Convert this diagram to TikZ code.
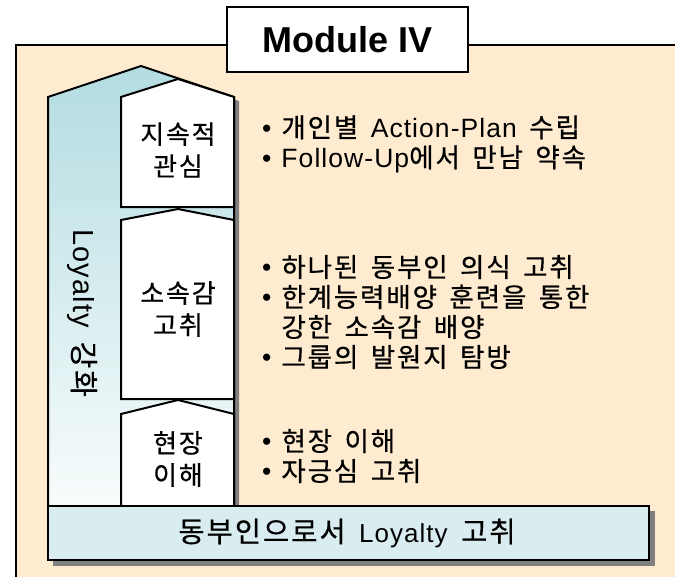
\documentclass[tikz,border=0pt]{standalone}
\usepackage{fontspec}
\setmainfont{Noto Sans CJK KR}[FakeBold=0.5, LetterSpace=7, WordSpace=1.6]
\newfontfamily\lat{Liberation Sans}[LetterSpace=4]
\newfontfamily\titlefont{Liberation Sans}
\newcommand{\bul}{{\lat •}\hspace{10pt}}
\definecolor{paper}{HTML}{FEEBD0}
\definecolor{colteal}{HTML}{B3DCE1}
\definecolor{colpale}{HTML}{F8FCFC}
\definecolor{baseteal}{HTML}{D9EDF0}
\definecolor{shadowgray}{HTML}{808080}
\tikzset{
  boxline/.style={line width=2pt, line join=miter},
  shadowfill/.style={fill=shadowgray},
  stagetext/.style={font=\fontsize{26}{32}\selectfont, align=center, inner sep=0pt},
  bullettext/.style={font=\fontsize{26.5}{30}\selectfont, align=left, inner sep=0pt, anchor=west},
}
\begin{document}
\begin{tikzpicture}[x=1pt, y=-1pt]
    \useasboundingbox (0,0) rectangle (675,576);
    % frame
    \fill[paper] (16,45) rectangle (676,577);
    \draw[boxline] (676,45) -- (16,45) -- (16,577);
    % column
    \coordinate (colLeft)  at ( 48, 97);
    \coordinate (colTop)   at (141, 66);
    \coordinate (colRight) at (234, 97);
    \fill[shadowfill] (53,510) -- (53,101) -- (146,70) -- (239,101) -- (239,510) -- cycle;
    \draw[boxline, top color=colteal, bottom color=colpale]
        (48,506) -- (colLeft) -- (colTop) -- (colRight) -- (234,506);
    % stages
    \draw[boxline, fill=white] (121,207) -- (121, 97) -- (178, 79) -- (234, 97) -- (234,207) -- cycle;
    \draw[boxline, fill=white] (121,399) -- (121,220) -- (178,209) -- (234,220) -- (234,399) -- cycle;
    \draw[boxline, fill=white] (121,506) -- (121,414) -- (178,400) -- (234,414) -- (234,506);
    % base
    \fill[shadowfill] (53,511) rectangle (655,566);
    \draw[boxline, fill=baseteal] (48,506) rectangle (649,560);
    % title
    \node[boxline, draw, fill=white, minimum width=241pt, minimum height=65pt,
          font=\titlefont\bfseries\fontsize{36}{36}\selectfont] (title) at (347.5,39.5) {Module IV};
    % texts
    \node[stagetext] (sustain) at (178,150) {지속적\\관심};
    \node[stagetext] (belong)  at (178,309) {소속감\\고취};
    \node[stagetext] (field)   at (178,459) {현장\\이해};
    \node[stagetext, rotate=-90, font=\fontsize{29}{30}\selectfont] (loyalty) at (82,313) {{\lat Loyalty} 강화};
    \node[stagetext, font=\fontsize{28.5}{30}\selectfont] (base) at (347,533) {동부인으로서 {\lat\fontsize{26}{30}\selectfont Loyalty} 고취};
    \node[bullettext] (planlist)   at (262,144) {\bul 개인별 {\lat Action-Plan} 수립\\\bul {\lat Follow-Up}에서 만남 약속};
    \node[bullettext] (belonglist) at (262,312) {\bul 하나된 동부인 의식 고취\\\bul 한계능력배양 훈련을 통한\\\phantom{\bul}강한 소속감 배양\\\bul 그룹의 발원지 탐방};
    \node[bullettext] (fieldlist)  at (262,456) {\bul 현장 이해\\\bul 자긍심 고취};
\end{tikzpicture}
\end{document}
